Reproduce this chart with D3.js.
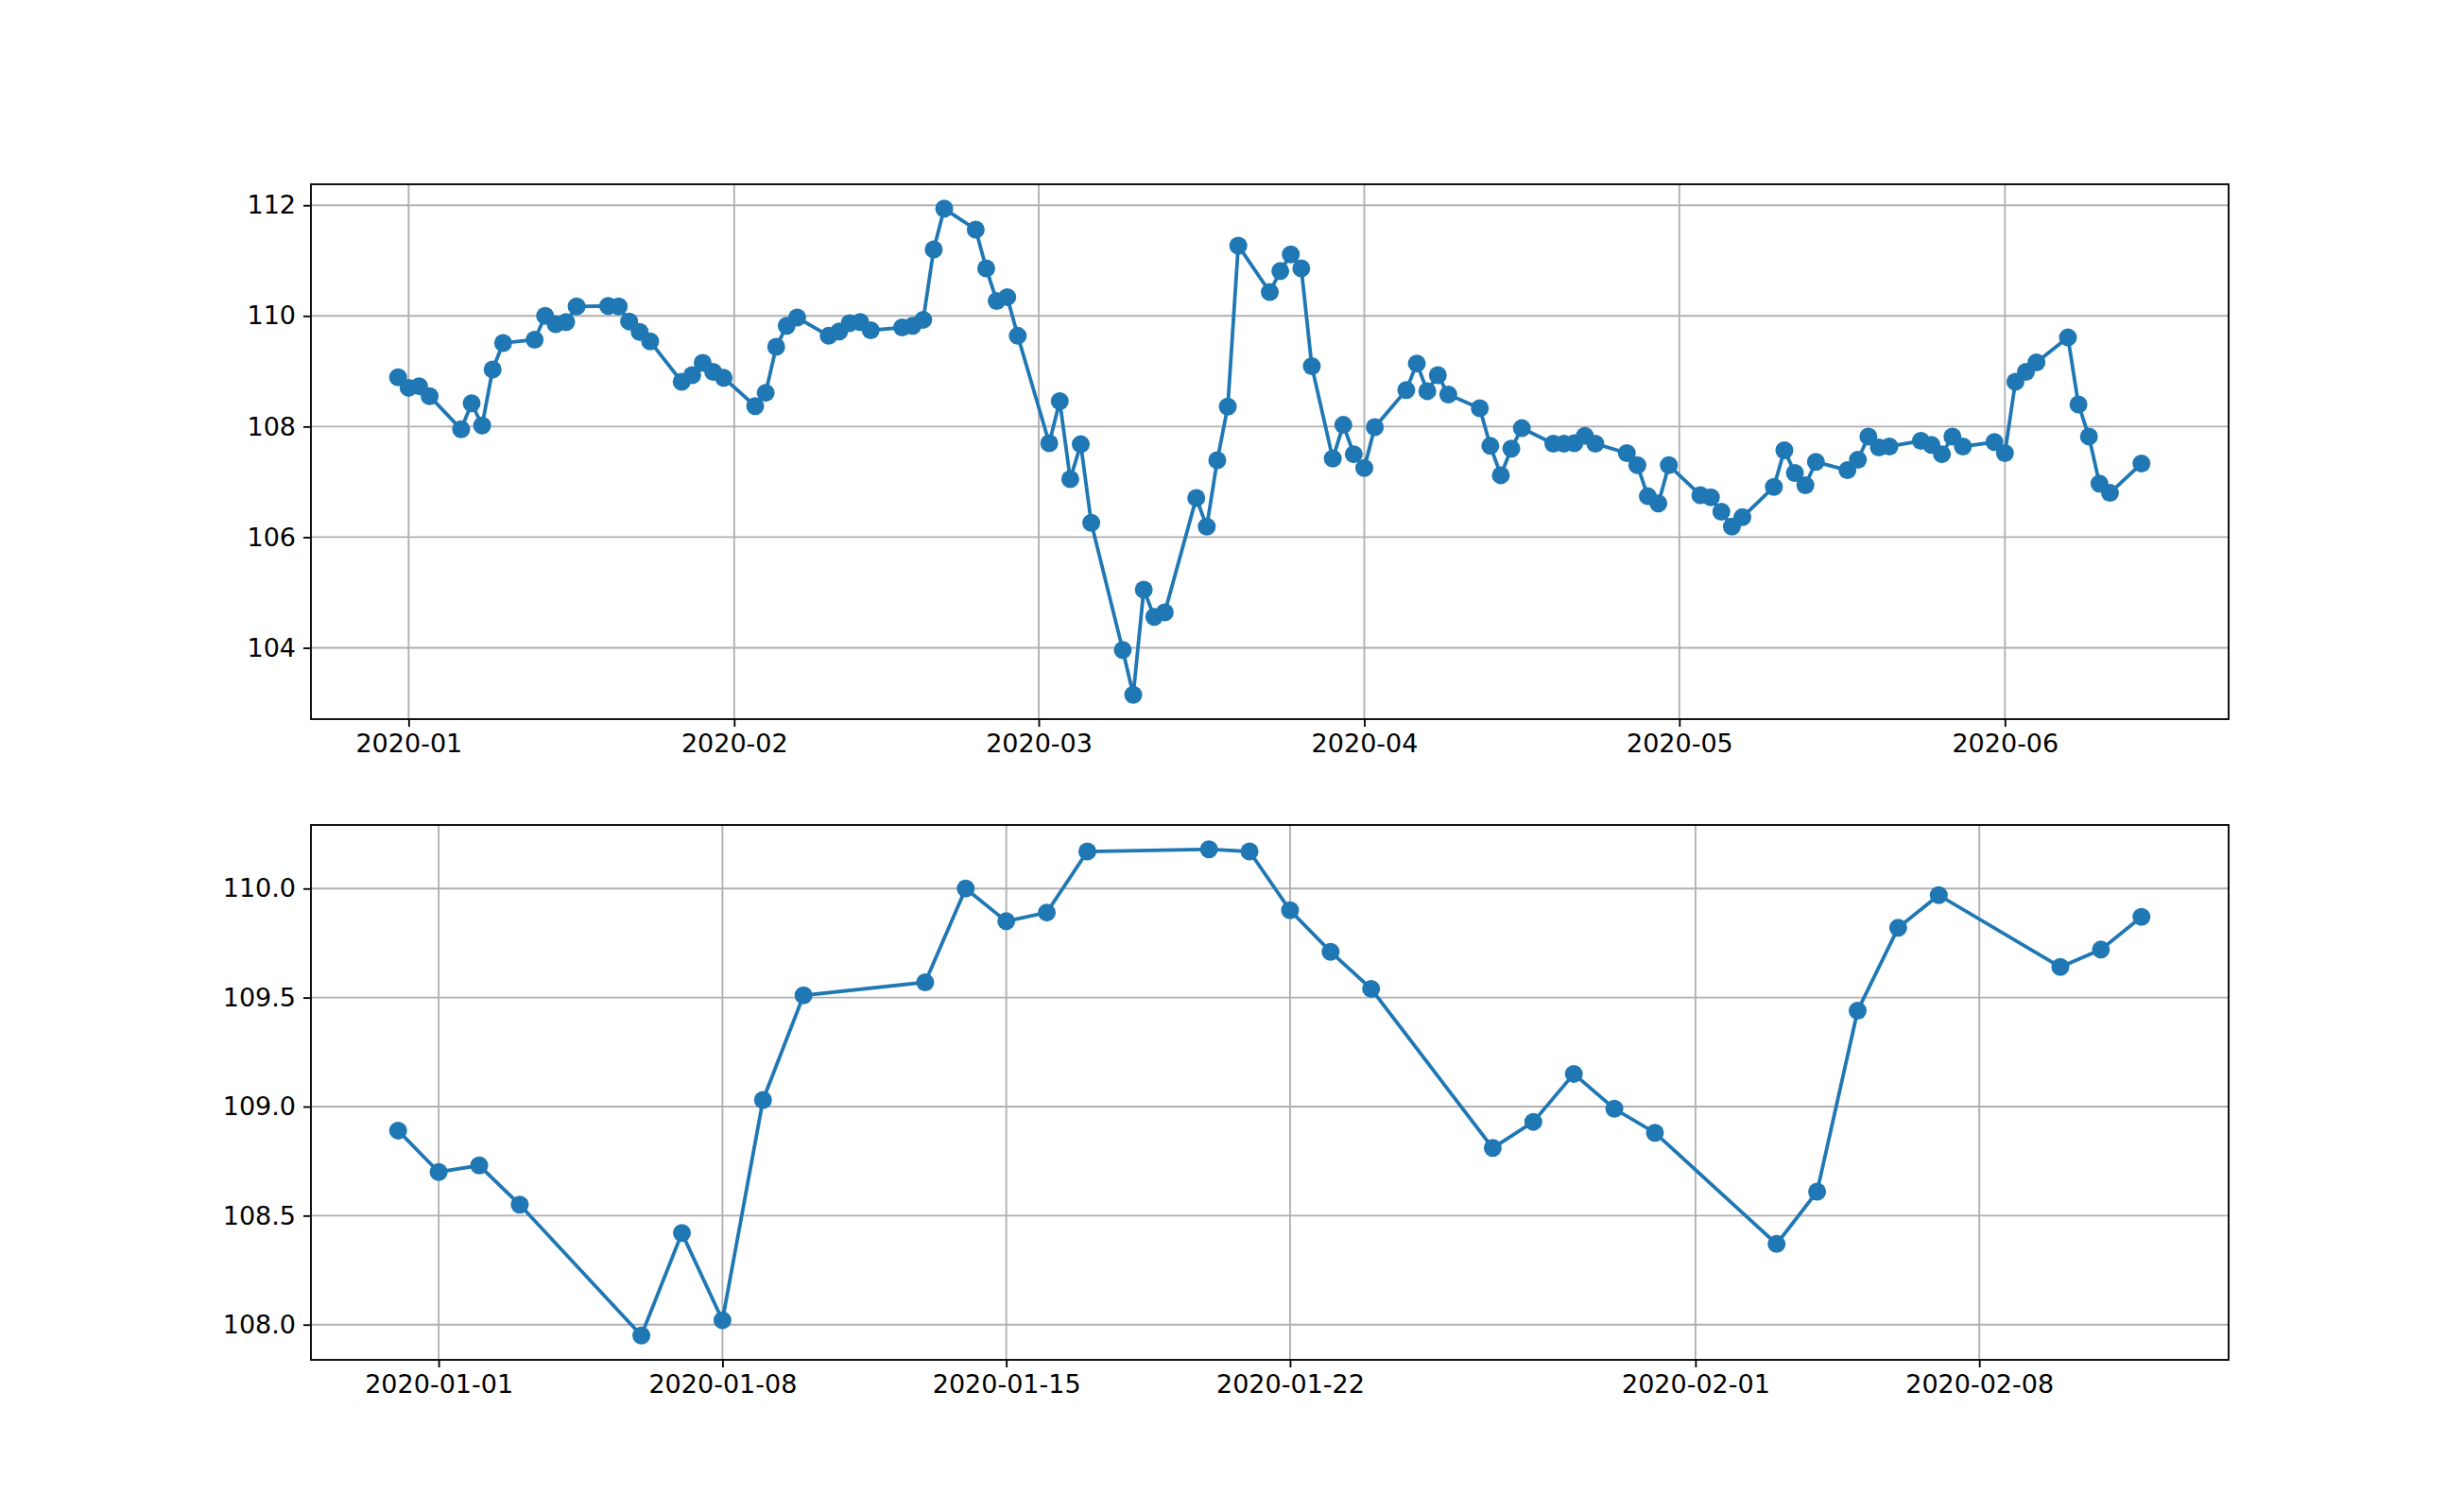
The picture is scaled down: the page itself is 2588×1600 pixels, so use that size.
<!DOCTYPE html>
<html>
<head>
<style>
  body { margin: 0; background: #fff; font-family: 'DejaVu Sans', sans-serif; }
  .tick text { font-size: 27px; fill: #000; }
</style>
</head>
<body>
<div id="chart"></div>
<script src="https://d3js.org/d3.v7.min.js"></script>
<script>
// daily values, one per business day from 2019-12-31
const values = [
  108.89,
  108.70, 108.73, 108.55, 107.95, 108.42, 108.02, 109.03, 109.51, 109.57, 110.00, 109.85, 109.89, 110.17,
  110.18, 110.17, 109.90, 109.71, 109.54, 108.81, 108.93, 109.15, 108.99, 108.88,
  108.37, 108.61, 109.44, 109.82, 109.97, 109.64, 109.72, 109.87, 109.89, 109.74,
  109.79, 109.82, 109.93, 111.20, 111.94, 111.56, 110.86, 110.27, 110.34, 109.64,
  107.70, 108.46, 107.05, 107.68, 106.26, 103.96, 103.15, 105.05, 104.56, 104.64,
  106.71, 106.19, 107.39, 108.36, 111.27, 110.43, 110.81, 111.11, 110.86, 109.09,
  107.42, 108.03,
  107.50, 107.25, 107.99, 108.66, 109.14, 108.64, 108.93, 108.58, 108.33, 107.65, 107.12, 107.60, 107.97,
  107.69, 107.69, 107.70, 107.83, 107.69, 107.52, 107.30, 106.74, 106.61,
  107.30, 106.76, 106.72, 106.46, 106.19, 106.36, 106.91, 107.57, 107.16, 106.94, 107.36,
  107.21, 107.40, 107.82, 107.62, 107.64, 107.74, 107.67, 107.50, 107.82, 107.64,
  107.72, 107.52, 108.81, 108.99, 109.16, 109.61, 108.40, 107.82, 106.97, 106.80, 107.33
];
const zoomCount = 32; // second panel: first 32 points

const topTicks = ['2020-01-01', '2020-02-01', '2020-03-01', '2020-04-01', '2020-05-01', '2020-06-01'];
const bottomTicks = ['2020-01-01', '2020-01-08', '2020-01-15', '2020-01-22', '2020-02-01', '2020-02-08'];
const topYTicks = [104, 106, 108, 110, 112];
const bottomYTicks = [108.0, 108.5, 109.0, 109.5, 110.0];

const parse = d3.timeParse('%Y-%m-%d');

// business days; from 30 March the timestamps sit one day earlier in the plot
const dates = [];
let day = parse('2019-12-31');
const shiftFrom = parse('2020-03-30');
while (dates.length < values.length) {
  const wd = day.getDay();
  if (wd !== 0 && wd !== 6) {
    dates.push(day >= shiftFrom ? d3.timeDay.offset(day, -1) : day);
  }
  day = d3.timeDay.offset(day, 1);
}
const data = dates.map((d, i) => ({ date: d, value: values[i] }));

const W = 2588, H = 1600;
const svg = d3.select('#chart').append('svg').attr('width', W).attr('height', H);

function panel(rows, top, bottom, xTicks, xFmt, yTicks, yFmt) {
  const left = 329, right = 2358;
  const xExt = d3.extent(rows, d => d.date);
  const xPad = (xExt[1] - xExt[0]) * 0.05;
  const x = d3.scaleTime().domain([+xExt[0] - xPad, +xExt[1] + xPad]).range([left, right]);
  const yExt = d3.extent(rows, d => d.value);
  const yPad = (yExt[1] - yExt[0]) * 0.05;
  const y = d3.scaleLinear().domain([yExt[0] - yPad, yExt[1] + yPad]).range([bottom, top]);

  const g = svg.append('g');
  const xt = xTicks.map(parse);

  // grid
  g.selectAll('.gx').data(xt).enter().append('line')
    .attr('x1', d => x(d)).attr('x2', d => x(d)).attr('y1', top).attr('y2', bottom)
    .attr('stroke', '#b0b0b0').attr('stroke-width', 1.85);
  g.selectAll('.gy').data(yTicks).enter().append('line')
    .attr('x1', left).attr('x2', right).attr('y1', d => y(d)).attr('y2', d => y(d))
    .attr('stroke', '#b0b0b0').attr('stroke-width', 1.85);

  const xAxis = g.append('g').attr('transform', `translate(0,${bottom})`)
    .call(d3.axisBottom(x).tickValues(xt).tickFormat(xFmt).tickSizeInner(8).tickSizeOuter(0).tickPadding(8));
  const yAxis = g.append('g').attr('transform', `translate(${left},0)`)
    .call(d3.axisLeft(y).tickValues(yTicks).tickFormat(yFmt).tickSizeInner(8).tickSizeOuter(0).tickPadding(8));
  [xAxis, yAxis].forEach(a => {
    a.select('.domain').remove();
    a.selectAll('.tick line').attr('stroke-width', 1.85);
    a.selectAll('text').style('font-family', 'DejaVu Sans');
  });

  const line = d3.line().x(d => x(d.date)).y(d => y(d.value));
  g.append('path').datum(rows).attr('d', line)
    .attr('fill', 'none').attr('stroke', '#1f77b4').attr('stroke-width', 3.8);
  g.selectAll('circle').data(rows).enter().append('circle')
    .attr('cx', d => x(d.date)).attr('cy', d => y(d.value)).attr('r', 9.5)
    .attr('fill', '#1f77b4');

  g.append('rect').attr('x', left).attr('y', top).attr('width', right - left).attr('height', bottom - top)
    .attr('fill', 'none').attr('stroke', '#000').attr('stroke-width', 1.85);
}

panel(data, 195, 761, topTicks, d3.timeFormat('%Y-%m'), topYTicks, d3.format('d'));
panel(data.slice(0, zoomCount), 873, 1439, bottomTicks, d3.timeFormat('%Y-%m-%d'), bottomYTicks, d3.format('.1f'));
</script>
</body>
</html>
